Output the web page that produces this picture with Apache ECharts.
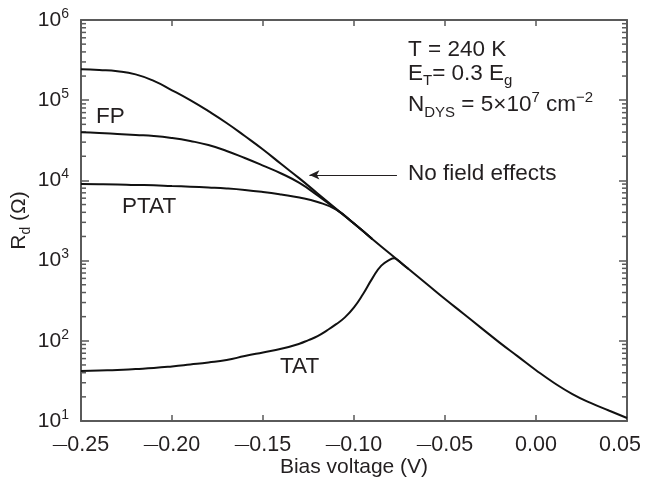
<!DOCTYPE html>
<html>
<head>
<meta charset="utf-8">
<script src="https://cdn.jsdelivr.net/npm/echarts@6/dist/echarts.min.js"></script>
<style>
  html, body { margin: 0; padding: 0; background: #fff; }
  #chart { width: 645px; height: 486px; }
</style>
</head>
<body>
<div id="chart"></div>
<script>
// Bias voltage grid (V) shared by the no-field, FP and PTAT curves
const voltage = [-0.25, -0.24, -0.23, -0.22, -0.21, -0.20, -0.19, -0.18, -0.17, -0.16,
                 -0.15, -0.14, -0.13, -0.12, -0.11, -0.10, -0.09, -0.08, -0.07, -0.06,
                 -0.05, -0.04, -0.03, -0.02, -0.01, 0.00, 0.01, 0.02, 0.03, 0.04, 0.05];

// Dynamic resistance R_d (ohm), no field effects
const noFieldR = [243000, 238000, 230000, 210000, 174000, 133000, 100000, 73000, 52000, 35800,
                  24300, 16000, 10600, 6870, 4470, 2900, 1860, 1210, 785, 511,
                  332, 219, 144, 95, 64, 43, 29.8, 21.7, 16.8, 13.5, 10.9];

// Frenkel-Poole (FP) curve, joins the no-field curve near -0.10 V
const fpR = [39800, 39000, 37900, 36800, 35800, 33800, 31000, 27600, 23300, 19000,
             15300, 12200, 9300, 6500, 4400, 2900, 1860];

// Phonon-assisted tunnelling (PTAT) curve
const ptatR = [9000, 8970, 8900, 8770, 8700, 8500, 8350, 8150, 7920, 7590,
               7160, 6660, 6120, 5380, 4340, 2900, 1860];

// Trap-assisted tunnelling (TAT) curve, finer steps where it rises to its peak
const tatV = [-0.25, -0.24, -0.23, -0.22, -0.21, -0.20, -0.19, -0.18, -0.17, -0.16,
              -0.15, -0.14, -0.13, -0.125, -0.12, -0.115, -0.11, -0.105, -0.10, -0.095,
              -0.09, -0.085, -0.08, -0.078, -0.076, -0.073, -0.07];
const tatR = [42, 42.7, 43.3, 44.5, 45.8, 47.9, 50.6, 53.6, 57.6, 64.5,
              71.6, 79.4, 92, 102, 114, 134, 160, 196, 261, 384,
              596, 865, 1035, 1067, 1012, 890, 785];

// Axis ranges
const xMin = -0.25, xMax = 0.05, xStep = 0.05;
const yMin = 10, yMax = 1e6;
const decadeMultipliers = [2, 3, 4, 5, 6, 7, 8, 9];

const FONT = '"Liberation Sans", Arial, Helvetica, sans-serif';
const INK = '#231f20';
const AXIS = '#5a5a5a';

function pair(xs, ys) { return ys.map((y, i) => [xs[i], y]); }

// minor log ticks (2..9 within each decade)
const minorTicks = [];
for (let e = Math.log10(yMin); e < Math.log10(yMax); e++) {
  decadeMultipliers.forEach(m => minorTicks.push([xMin, m * Math.pow(10, e)]));
}

function curve(name, data) {
  return {
    name, type: 'line', data, smooth: 0.5, symbol: 'none',
    lineStyle: { color: '#111', width: 2 }, itemStyle: { color: '#111' }, silent: true, z: 3
  };
}

// tick label: long dash for negatives; the last label is nudged inward
function xTickLabel(v) {
  const body = Math.abs(v).toFixed(2);
  if (v < -1e-9) return '{d|\u2014}{n|' + body + '}';
  if (Math.abs(v - xMax) < 1e-9) return '{e|' + body + '}';
  return '{n|' + body + '}';
}

const frameLine = { onZero: false, lineStyle: { color: AXIS, width: 2 } };

const chart = echarts.init(document.getElementById('chart'), null, { renderer: 'canvas' });

chart.setOption({
  animation: false,
  backgroundColor: '#fff',
  grid: { left: 81, right: 18, top: 20, bottom: 65, containLabel: false, outerBoundsMode: 'none' },
  xAxis: [{
    type: 'value', min: xMin, max: xMax, interval: xStep,
    name: 'Bias voltage (V)', nameLocation: 'middle', nameGap: 36, nameMoveOverlap: false,
    nameTextStyle: { fontFamily: FONT, fontSize: 21, color: INK },
    axisLine: frameLine,
    axisTick: { inside: true, length: 6, lineStyle: { color: AXIS, width: 1.5 } },
    axisLabel: {
      margin: 12, color: INK,
      formatter: xTickLabel,
      rich: {
        d: { fontFamily: FONT, fontSize: 14.5, color: INK, lineHeight: 24 },
        n: { fontFamily: FONT, fontSize: 21.5, color: INK, lineHeight: 24 },
        e: { fontFamily: FONT, fontSize: 21.5, color: INK, lineHeight: 24, padding: [0, 14, 0, 0] }
      }
    },
    splitLine: { show: false }
  }, {
    type: 'value', min: xMin, max: xMax, interval: xStep, position: 'top',
    axisLine: frameLine,
    axisTick: { inside: true, length: 6, lineStyle: { color: AXIS, width: 1.5 } },
    axisLabel: { show: false }, splitLine: { show: false }
  }],
  yAxis: [{
    type: 'log', logBase: 10, min: yMin, max: yMax, position: 'left',
    name: '{a|R}{sub|d}{a| (\u03a9)}', nameLocation: 'middle', nameGap: 48, nameRotate: 90,
    nameMoveOverlap: false,
    nameTextStyle: {
      fontFamily: FONT, color: INK,
      rich: {
        a: { fontFamily: FONT, fontSize: 21, color: INK, lineHeight: 28 },
        sub: { fontFamily: FONT, fontSize: 14, color: INK, verticalAlign: 'bottom', lineHeight: 14 }
      }
    },
    axisLine: frameLine,
    axisTick: { inside: true, length: 8, lineStyle: { color: AXIS, width: 1.5 } },
    axisLabel: {
      margin: 12, color: INK,
      formatter: v => '{b|10}{s|' + Math.round(Math.log10(v)) + '}',
      rich: {
        b: { fontFamily: FONT, fontSize: 21, color: INK, lineHeight: 26 },
        s: { fontFamily: FONT, fontSize: 14, color: INK, verticalAlign: 'top', lineHeight: 16 }
      }
    },
    splitLine: { show: false }
  }, {
    type: 'log', logBase: 10, min: yMin, max: yMax, position: 'right',
    axisLine: frameLine,
    axisTick: { inside: true, length: 8, lineStyle: { color: AXIS, width: 1.5 } },
    axisLabel: { show: false }, splitLine: { show: false }
  }],
  series: [
    Object.assign(curve('No field effects', pair(voltage, noFieldR)), {
      markLine: {
        silent: true, symbol: ['none', 'arrow'], symbolSize: [7, 10],
        lineStyle: { color: INK, width: 1.2, type: 'solid' },
        label: { show: false },
        data: [[{ coord: [-0.0764, 11700] }, { coord: [-0.1245, 11700] }]]
      }
    }),
    curve('FP', pair(voltage, fpR)),
    curve('PTAT', pair(voltage, ptatR)),
    curve('TAT', pair(tatV, tatR)),
    {
      // minor log ticks on the left and right frame edges
      type: 'custom', silent: true, z: 2,
      data: minorTicks,
      renderItem: (params, api) => {
        const cs = params.coordSys;
        const y = api.coord([api.value(0), api.value(1)])[1];
        const st = { stroke: AXIS, lineWidth: 1.5 };
        return {
          type: 'group', children: [
            { type: 'line', shape: { x1: cs.x, y1: y, x2: cs.x + 5, y2: y }, style: st },
            { type: 'line', shape: { x1: cs.x + cs.width - 5, y1: y, x2: cs.x + cs.width, y2: y }, style: st }
          ]
        };
      }
    }
  ],
  graphic: [
    { type: 'text', left: 408, top: 38, style: { text: 'T = 240 K', fontSize: 22.5, fontFamily: FONT, fill: INK } },
    {
      type: 'text', left: 408, top: 62,
      style: {
        text: '{a|E}{sub|T}{a|= 0.3 E}{sub|g}',
        rich: {
          a: { fontSize: 22.5, fontFamily: FONT, fill: INK, lineHeight: 30 },
          sub: { fontSize: 15, fontFamily: FONT, fill: INK, verticalAlign: 'bottom', lineHeight: 15 }
        }
      }
    },
    {
      type: 'text', left: 408, top: 90,
      style: {
        text: '{a|N}{sub|DYS}{a| = 5\u00d710}{sup|7}{a| cm}{sup|\u22122}',
        rich: {
          a: { fontSize: 22.5, fontFamily: FONT, fill: INK, lineHeight: 30 },
          sub: { fontSize: 15, fontFamily: FONT, fill: INK, verticalAlign: 'bottom', lineHeight: 15 },
          sup: { fontSize: 15, fontFamily: FONT, fill: INK, verticalAlign: 'top', lineHeight: 18 }
        }
      }
    },
    { type: 'text', left: 408, top: 162, style: { text: 'No field effects', fontSize: 22.5, fontFamily: FONT, fill: INK } },
    { type: 'text', left: 96, top: 105, style: { text: 'FP', fontSize: 22.5, fontFamily: FONT, fill: INK } },
    { type: 'text', left: 122, top: 195, style: { text: 'PTAT', fontSize: 22.5, fontFamily: FONT, fill: INK } },
    { type: 'text', left: 280, top: 355, style: { text: 'TAT', fontSize: 22.5, fontFamily: FONT, fill: INK } }
  ]
});
</script>
</body>
</html>
